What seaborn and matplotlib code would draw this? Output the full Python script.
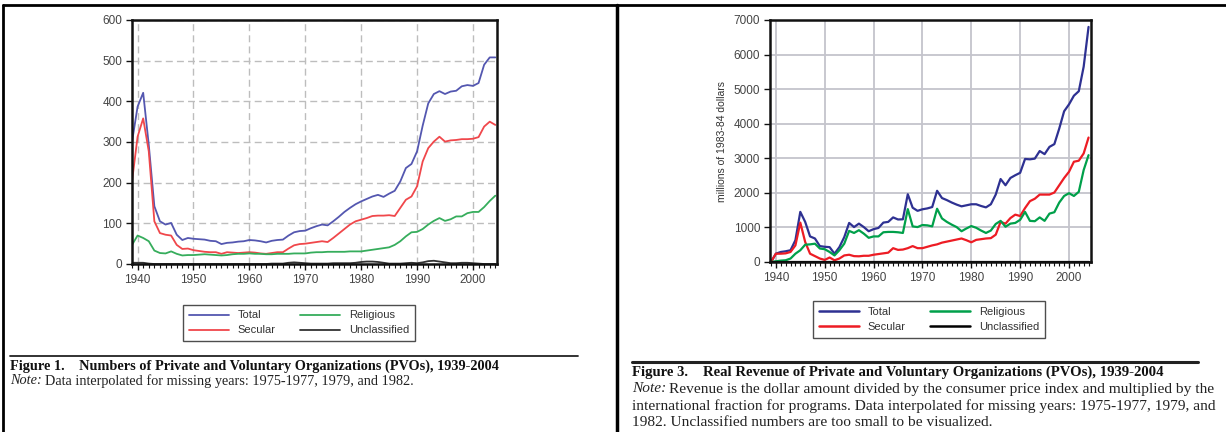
import numpy as np
import pandas as pd
import matplotlib
matplotlib.use("Agg")
import matplotlib.pyplot as plt
from matplotlib.lines import Line2D
from matplotlib.ticker import MultipleLocator
import seaborn as sns

# --- data ---
years = list(range(1939, 2005))

count_total = [300,
               387, 421, 293, 142, 105, 97, 101, 72, 59, 64,
               62, 61, 60, 57, 56, 49, 52, 53, 55, 56,
               59, 58, 56, 53, 57, 59, 60, 70, 78, 81,
               82, 88, 93, 97, 95, 105, 116, 128, 138, 147,
               154, 160, 166, 170, 165, 173, 180, 203, 236, 246,
               277, 340, 395, 418, 425, 418, 424, 426, 437, 440,
               438, 445, 490, 508, 508]
count_secular = [203,
                 313, 358, 277, 105, 76, 72, 70, 47, 37, 38,
                 34, 32, 30, 29, 29, 25, 29, 28, 27, 28,
                 29, 28, 26, 25, 27, 29, 29, 38, 46, 49,
                 50, 52, 54, 56, 54, 64, 75, 86, 97, 105,
                 109, 113, 118, 119, 119, 120, 118, 138, 158, 166,
                 191, 252, 285, 301, 313, 301, 304, 305, 307, 307,
                 308, 312, 338, 350, 342]
count_religious = [47,
                   70, 64, 56, 33, 27, 26, 31, 25, 21, 22,
                   22, 23, 24, 23, 22, 21, 22, 24, 25, 25,
                   26, 25, 25, 24, 24, 25, 25, 25, 26, 26,
                   26, 28, 29, 29, 30, 30, 30, 30, 31, 31,
                   31, 33, 35, 37, 39, 41, 47, 56, 68, 78,
                   79, 86, 97, 106, 113, 106, 110, 117, 117, 125,
                   128, 128, 140, 155, 168]
count_unclassified = [3,
                      3, 3, 1, 0, 0, 0, 0, 0, 0, 0,
                      0, 0, 0, 0, 0, 0, 0, 0, 0, 0,
                      0, 0, 0, 0, 1, 1, 1, 3, 4, 3,
                      2, 1, 1, 1, 1, 2, 2, 2, 2, 3,
                      5, 6, 6, 5, 3, 1, 1, 1, 2, 3,
                      2, 4, 7, 8, 6, 4, 2, 2, 3, 3,
                      2, 1, 0, 0, 0]

rev_total = [0,
             240, 290, 310, 340, 630, 1450, 1160, 740, 680, 460,
             440, 430, 240, 430, 720, 1130, 1010, 1110, 1010, 890,
             950, 985, 1140, 1160, 1290, 1230, 1235, 1960, 1570, 1480,
             1525, 1550, 1590, 2060, 1850, 1790, 1720, 1660, 1610, 1640,
             1670, 1670, 1620, 1580, 1670, 1950, 2400, 2220, 2430, 2510,
             2580, 2980, 2970, 2990, 3210, 3120, 3330, 3410, 3860, 4360,
             4560, 4810, 4940, 5650, 6800]
rev_secular = [0,
               240, 240, 250, 290, 480, 1140, 580, 240, 170, 100,
               60, 130, 50, 100, 190, 210, 170, 165, 180, 180,
               210, 230, 250, 270, 400, 350, 360, 400, 460, 400,
               400, 440, 480, 510, 560, 590, 620, 650, 680, 630,
               570, 640, 660, 680, 690, 790, 1160, 1110, 1270, 1370,
               1330, 1560, 1760, 1830, 1950, 1950, 1950, 2010, 2220, 2430,
               2610, 2900, 2930, 3140, 3600]
rev_religious = [0,
                 20, 40, 50, 100, 240, 340, 500, 510, 530, 390,
                 370, 290, 190, 340, 530, 900, 840, 920, 820, 700,
                 740, 740, 860, 870, 870, 860, 840, 1530, 1030, 1010,
                 1070, 1060, 1030, 1540, 1260, 1160, 1080, 1010, 890, 970,
                 1040, 990, 910, 840, 910, 1100, 1190, 1020, 1110, 1130,
                 1220, 1450, 1190, 1180, 1290, 1190, 1400, 1440, 1720, 1910,
                 1990, 1910, 2030, 2660, 3090]
rev_unclassified = [0] * 66

series_names = ["Total", "Secular", "Religious", "Unclassified"]

W, H = 1226, 432


def fx(x):
    return x / W


def fy(y):
    return 1 - y / H


def long_df(cols):
    frames = []
    for name, vals in zip(series_names, cols):
        frames.append(pd.DataFrame({"year": years, "value": vals, "series": name}))
    return pd.concat(frames, ignore_index=True)


df_count = long_df([count_total, count_secular, count_religious, count_unclassified])
df_rev = long_df([rev_total, rev_secular, rev_religious, rev_unclassified])

sns.set_style("white")
plt.rcParams["font.family"] = ["Liberation Sans", "DejaVu Sans"]

fig = plt.figure(figsize=(W / 100, H / 100), dpi=100)

# --- Figure 1: counts ---
ax1 = fig.add_axes([fx(132), fy(264), fx(497) - fx(132), fy(20) - fy(264)])
pal1 = {"Total": "#5457b0", "Secular": "#f0474b", "Religious": "#36ad5c", "Unclassified": "#333333"}
sns.lineplot(data=df_count, x="year", y="value", hue="series", hue_order=series_names,
             palette=pal1, linewidth=1.3, ax=ax1)
ax1.set_xlim(1939, 2004.3)
ax1.set_ylim(0, 600)
ax1.yaxis.set_major_locator(MultipleLocator(100))
ax1.grid(True, linestyle=(0, (5, 3)), color="#bdbdbd", linewidth=1)

# --- Figure 3: revenue ---
ax2 = fig.add_axes([fx(770), fy(262), fx(1091) - fx(770), fy(20) - fy(262)])
pal2 = {"Total": "#2e3192", "Secular": "#ed1c24", "Religious": "#00a04a", "Unclassified": "#000000"}
sns.lineplot(data=df_rev, x="year", y="value", hue="series", hue_order=series_names,
             palette=pal2, linewidth=1.6, ax=ax2)
ax2.set_xlim(1938.8, 2004.5)
ax2.set_ylim(0, 7000)
ax2.yaxis.set_major_locator(MultipleLocator(1000))
ax2.grid(True, linestyle="-", color="#c4c4cc", linewidth=1.3)
ax2.set_ylabel("millions of 1983-84 dollars", fontsize=7.5, color="#333333", labelpad=5)

for ax in (ax1, ax2):
    ax.set_xlabel("")
    if ax is ax1:
        ax.set_ylabel("")
    ax.xaxis.set_major_locator(MultipleLocator(10))
    ax.xaxis.set_minor_locator(MultipleLocator(1))
    ax.set_axisbelow(True)
    for s in ax.spines.values():
        s.set_color("#111111")
        s.set_linewidth(1.8)
    ax.tick_params(axis="both", which="major", direction="out", length=4, width=1,
                   color="#111111", labelsize=8.5, labelcolor="#444444", pad=3,
                   bottom=True, left=True)
    ax.tick_params(axis="x", which="minor", direction="out", length=3, width=0.8,
                   color="#111111", bottom=True)
    ax.legend_.remove()

leg_kw = dict(loc="upper center", ncol=2, frameon=True, fancybox=False, fontsize=8,
              handlelength=3.6, columnspacing=2.2, labelspacing=0.45, borderpad=0.5,
              edgecolor="#222222")
h1, l1 = ax1.get_legend_handles_labels()
lg1 = ax1.legend(h1, l1, bbox_to_anchor=(0.457, -0.145), **leg_kw)
h2, l2 = ax2.get_legend_handles_labels()
lg2 = ax2.legend(h2, l2, bbox_to_anchor=(0.495, -0.14), **leg_kw)
for lg in (lg1, lg2):
    lg.get_frame().set_linewidth(1.0)
    for t in lg.get_texts():
        t.set_color("#333333")
for h in lg1.legend_handles:
    h.set_linewidth(1.3)
for h in lg2.legend_handles:
    h.set_linewidth(1.8)

# --- page frame ---
fig.add_artist(Line2D([fx(3), 1], [fy(5), fy(5)], color="black", linewidth=2, transform=fig.transFigure))
fig.add_artist(Line2D([fx(3), fx(3)], [0, fy(5)], color="black", linewidth=2, transform=fig.transFigure))
fig.add_artist(Line2D([fx(617), fx(617)], [0, fy(5)], color="black", linewidth=2.5, transform=fig.transFigure))

# --- captions ---
serif = ["Liberation Serif", "DejaVu Serif"]
fig.add_artist(Line2D([fx(10), fx(578)], [fy(356), fy(356)], color="#222222", linewidth=1.3,
                      transform=fig.transFigure))
fig.add_artist(Line2D([fx(632), fx(1198)], [fy(362), fy(362)], color="#222222", linewidth=2.2,
                      transform=fig.transFigure))

fig.text(fx(10), fy(366), "Figure 1.    Numbers of Private and Voluntary Organizations (PVOs), 1939-2004",
         family=serif, fontsize=10.3, weight="bold", va="center", color="#111111")
fig.text(fx(632), fy(372), "Figure 3.    Real Revenue of Private and Voluntary Organizations (PVOs), 1939-2004",
         family=serif, fontsize=10.6, weight="bold", va="center", color="#111111")

fig.canvas.draw()
renderer = fig.canvas.get_renderer()


def note_line(x, y, rest, size, italic_first=True):
    if italic_first:
        t = fig.text(fx(x), fy(y), "Note:", family=serif, fontsize=size, style="italic",
                     va="center", color="#222222")
        bb = t.get_window_extent(renderer)
        x = bb.x1 + 3
    fig.text(fx(x), fy(y), rest, family=serif, fontsize=size, va="center", color="#222222")


note_line(10, 381, "Data interpolated for missing years: 1975-1977, 1979, and 1982.", 10.3)
note_line(632, 389, "Revenue is the dollar amount divided by the consumer price index and multiplied by the", 11.1)
note_line(632, 406, "international fraction for programs. Data interpolated for missing years: 1975-1977, 1979, and",
          11.1, italic_first=False)
note_line(632, 423, "1982. Unclassified numbers are too small to be visualized.", 11.1, italic_first=False)

fig.savefig("out.png", dpi=100)
